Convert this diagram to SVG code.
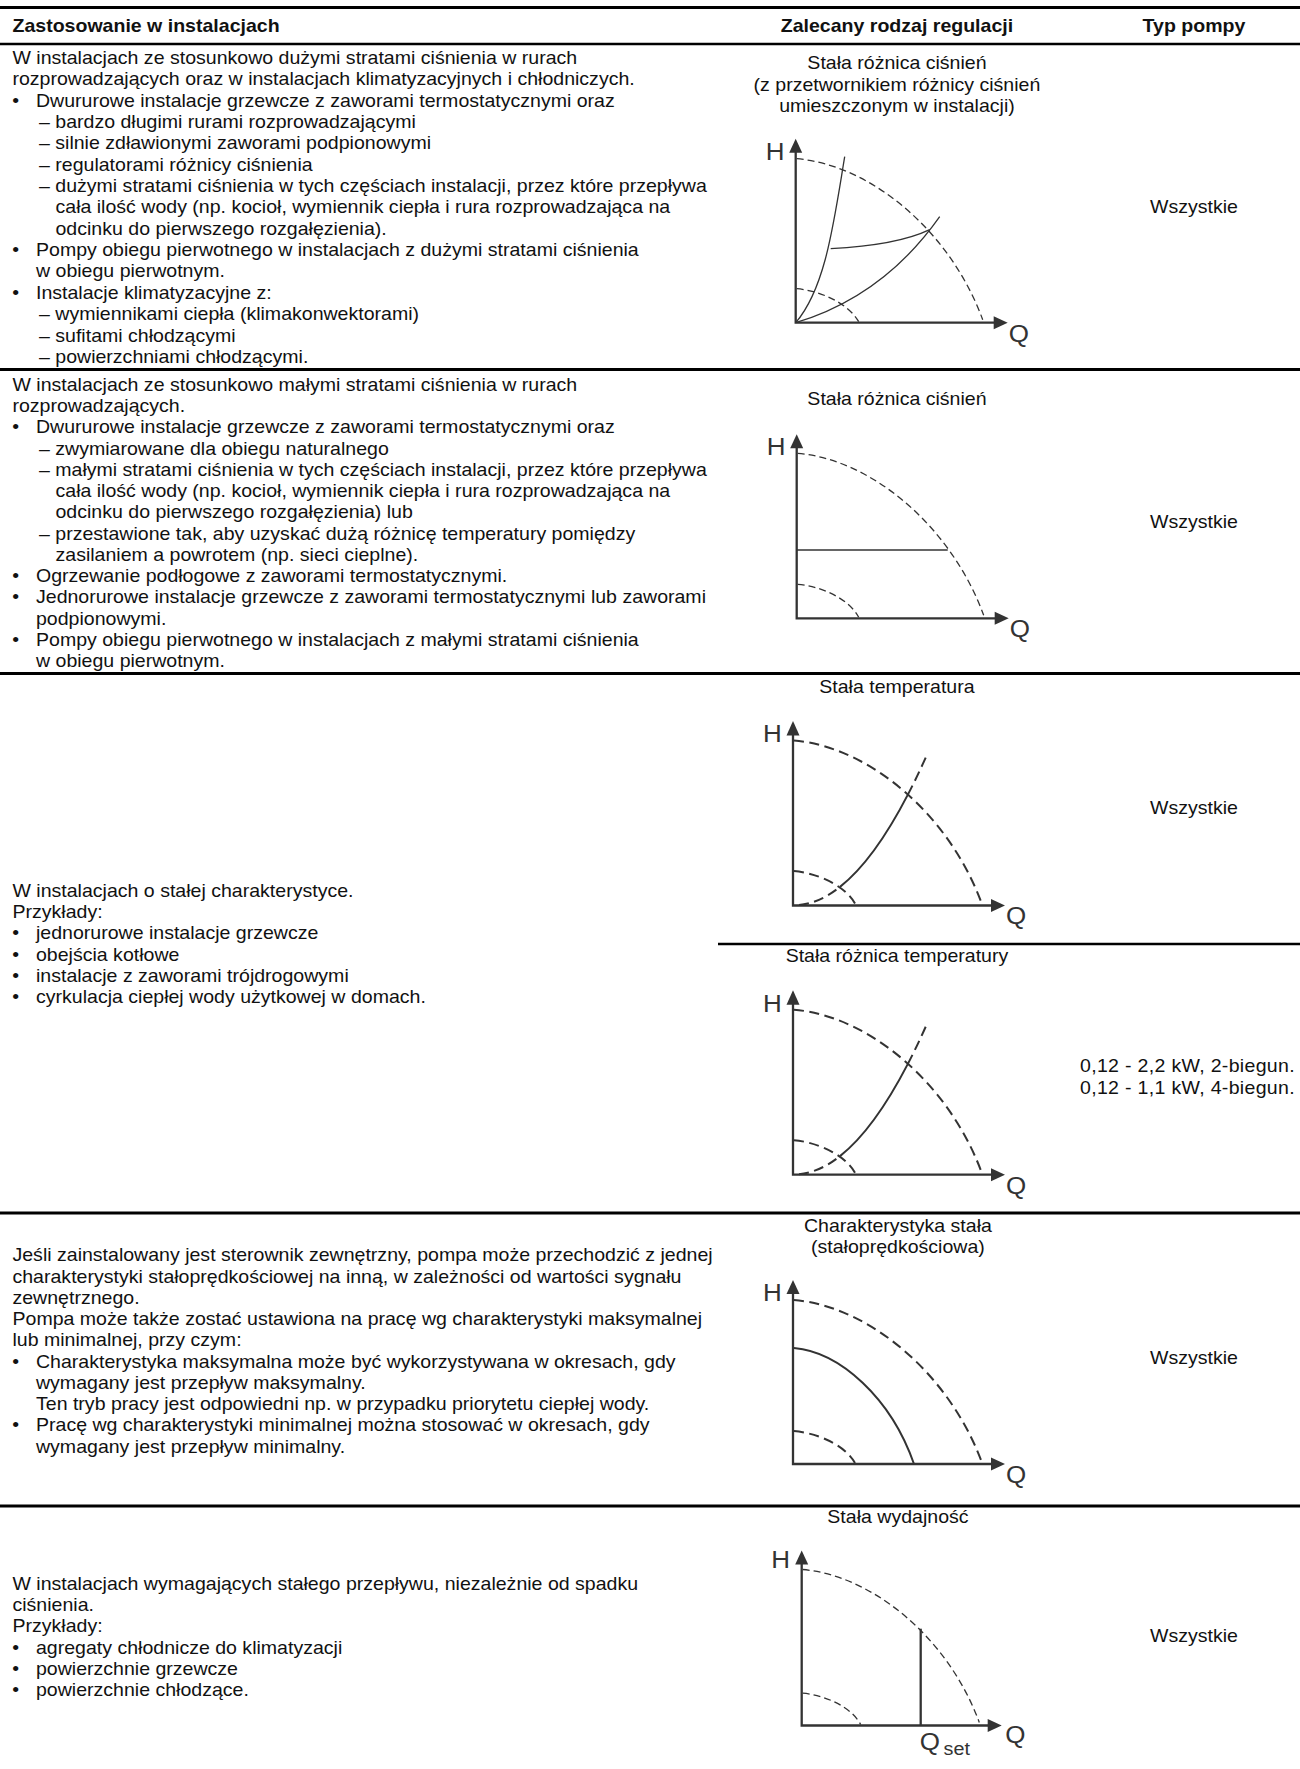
<svg xmlns="http://www.w3.org/2000/svg" width="1300" height="1769" viewBox="0 0 1300 1769">
<style>
.t{font-family:"Liberation Sans",Arial,Helvetica,sans-serif;font-size:17.8px;fill:#111}
.b{font-weight:bold}
.m{text-anchor:middle}
.ax{font-family:"Liberation Sans",Arial,Helvetica,sans-serif;font-size:23px;fill:#333}
.sub{font-family:"Liberation Sans",Arial,Helvetica,sans-serif;font-size:17.5px;fill:#333}
.rule{stroke:#000;stroke-width:3;fill:none}
.axis{stroke:#333;stroke-width:2.3;fill:none}
.head{fill:#333}
.thin{stroke:#333;stroke-width:1.3;fill:none}
.thinD{stroke:#333;stroke-width:1.3;fill:none;stroke-dasharray:7 4}
.thick{stroke:#333;stroke-width:2;fill:none}
.thickD{stroke:#333;stroke-width:2;fill:none;stroke-dasharray:10 5.5}
</style>
<rect width="1300" height="1769" fill="#fff"/>

<g id="rules">
<line class="rule" x1="0" y1="7.5" x2="1300" y2="7.5"/>
<line class="rule" x1="0" y1="44" x2="1300" y2="44" style="stroke-width:2.5"/>
<line class="rule" x1="0" y1="369.5" x2="1300" y2="369.5"/>
<line class="rule" x1="0" y1="673.5" x2="1300" y2="673.5"/>
<line class="rule" x1="718" y1="944" x2="1300" y2="944" style="stroke-width:2.5"/>
<line class="rule" x1="0" y1="1213" x2="1300" y2="1213"/>
<line class="rule" x1="0" y1="1506" x2="1300" y2="1506"/>
</g>

<g id="header" transform="matrix(1.098 0 0 1 0 0)">
<text class="t b" x="11.38" y="32">Zastosowanie w instalacjach</text>
<text class="t b m" x="816.9" y="32">Zalecany rodzaj regulacji</text>
<text class="t b m" x="1087.4" y="32">Typ pompy</text>
</g>

<g id="row1-text" transform="matrix(1.098 0 0 1 0 0)">
<text class="t" x="11.38" y="64">W instalacjach ze stosunkowo dużymi stratami ciśnienia w rurach</text>
<text class="t" x="11.38" y="85.35">rozprowadzających oraz w instalacjach klimatyzacyjnych i chłodniczych.</text>
<text class="t" x="11.2" y="106.7">•</text><text class="t" x="32.79" y="106.7">Dwururowe instalacje grzewcze z zaworami termostatycznymi oraz</text>
<text class="t" x="35.52" y="128.05">– bardzo długimi rurami rozprowadzającymi</text>
<text class="t" x="35.52" y="149.4">– silnie zdławionymi zaworami podpionowymi</text>
<text class="t" x="35.52" y="170.75">– regulatorami różnicy ciśnienia</text>
<text class="t" x="35.52" y="192.1">– dużymi stratami ciśnienia w tych częściach instalacji, przez które przepływa</text>
<text class="t" x="50.55" y="213.45">cała ilość wody (np. kocioł, wymiennik ciepła i rura rozprowadzająca na</text>
<text class="t" x="50.55" y="234.8">odcinku do pierwszego rozgałęzienia).</text>
<text class="t" x="11.2" y="256.15">•</text><text class="t" x="32.79" y="256.15">Pompy obiegu pierwotnego w instalacjach z dużymi stratami ciśnienia</text>
<text class="t" x="32.79" y="277.5">w obiegu pierwotnym.</text>
<text class="t" x="11.2" y="298.85">•</text><text class="t" x="32.79" y="298.85">Instalacje klimatyzacyjne z:</text>
<text class="t" x="35.52" y="320.2">– wymiennikami ciepła (klimakonwektorami)</text>
<text class="t" x="35.52" y="341.55">– sufitami chłodzącymi</text>
<text class="t" x="35.52" y="362.9">– powierzchniami chłodzącymi.</text>
<text class="t m" x="816.9" y="69">Stała różnica ciśnień</text>
<text class="t m" x="816.9" y="91">(z przetwornikiem różnicy ciśnień</text>
<text class="t m" x="816.9" y="112.5">umieszczonym w instalacji)</text>
<text class="t m" x="1087.4" y="213">Wszystkie</text>
</g>

<g id="chart1" transform="translate(795.7 322.7)">
<path class="axis" d="M0,-171 V0 H199"/>
<polygon class="head" points="0,-184 -6.5,-170 6.5,-170"/>
<polygon class="head" points="212,0 198,-6.5 198,6.5"/>
<path class="thinD" d="M1,-164 C74,-158 154,-93 187,-3"/>
<path class="thinD" d="M1,-34 C24,-32 52,-20 63,-1"/>
<path class="thin" d="M0,0 C30,-35 38,-100 49,-166"/>
<path class="thin" d="M0,0 C60,-18 108,-55 144,-106"/>
<path class="thin" d="M35,-74 C74,-76 109,-81 134,-93"/>
</g>
<g id="chart1-labels" transform="matrix(1.13 0 0 1 0 0)">
<text class="ax" x="677.6" y="159.7">H</text>
<text class="ax" x="892.7" y="341.7">Q</text>
</g>

<g id="row2-text" transform="matrix(1.098 0 0 1 0 0)">
<text class="t" x="11.38" y="391">W instalacjach ze stosunkowo małymi stratami ciśnienia w rurach</text>
<text class="t" x="11.38" y="412.25">rozprowadzających.</text>
<text class="t" x="11.2" y="433.5">•</text><text class="t" x="32.79" y="433.5">Dwururowe instalacje grzewcze z zaworami termostatycznymi oraz</text>
<text class="t" x="35.52" y="454.75">– zwymiarowane dla obiegu naturalnego</text>
<text class="t" x="35.52" y="476">– małymi stratami ciśnienia w tych częściach instalacji, przez które przepływa</text>
<text class="t" x="50.55" y="497.25">cała ilość wody (np. kocioł, wymiennik ciepła i rura rozprowadzająca na</text>
<text class="t" x="50.55" y="518.5">odcinku do pierwszego rozgałęzienia) lub</text>
<text class="t" x="35.52" y="539.75">– przestawione tak, aby uzyskać dużą różnicę temperatury pomiędzy</text>
<text class="t" x="50.55" y="561">zasilaniem a powrotem (np. sieci cieplne).</text>
<text class="t" x="11.2" y="582.25">•</text><text class="t" x="32.79" y="582.25">Ogrzewanie podłogowe z zaworami termostatycznymi.</text>
<text class="t" x="11.2" y="603.5">•</text><text class="t" x="32.79" y="603.5">Jednorurowe instalacje grzewcze z zaworami termostatycznymi lub zaworami</text>
<text class="t" x="32.79" y="624.75">podpionowymi.</text>
<text class="t" x="11.2" y="646">•</text><text class="t" x="32.79" y="646">Pompy obiegu pierwotnego w instalacjach z małymi stratami ciśnienia</text>
<text class="t" x="32.79" y="667.25">w obiegu pierwotnym.</text>
<text class="t m" x="816.9" y="405">Stała różnica ciśnień</text>
<text class="t m" x="1087.4" y="528">Wszystkie</text>
</g>

<g id="chart2" transform="translate(796.7 618.3)">
<path class="axis" d="M0,-171 V0 H199"/>
<polygon class="head" points="0,-184 -6.5,-170 6.5,-170"/>
<polygon class="head" points="212,0 198,-6.5 198,6.5"/>
<path class="thinD" d="M1,-165 C74,-159 154,-93 187,-3"/>
<path class="thinD" d="M1,-34 C24,-32 52,-20 62,-1"/>
<path class="thin" d="M0,-68.3 H151"/>
</g>
<g id="chart2-labels" transform="matrix(1.13 0 0 1 0 0)">
<text class="ax" x="678.5" y="455.3">H</text>
<text class="ax" x="893.5" y="637.3">Q</text>
</g>

<g id="row3-text" transform="matrix(1.098 0 0 1 0 0)">
<text class="t" x="11.38" y="897">W instalacjach o stałej charakterystyce.</text>
<text class="t" x="11.38" y="918.25">Przykłady:</text>
<text class="t" x="11.2" y="939.5">•</text><text class="t" x="32.79" y="939.5">jednorurowe instalacje grzewcze</text>
<text class="t" x="11.2" y="960.75">•</text><text class="t" x="32.79" y="960.75">obejścia kotłowe</text>
<text class="t" x="11.2" y="982">•</text><text class="t" x="32.79" y="982">instalacje z zaworami trójdrogowymi</text>
<text class="t" x="11.2" y="1003.25">•</text><text class="t" x="32.79" y="1003.25">cyrkulacja ciepłej wody użytkowej w domach.</text>
<text class="t m" x="816.9" y="693">Stała temperatura</text>
<text class="t m" x="1087.4" y="814.5">Wszystkie</text>
<text class="t m" x="816.9" y="962">Stała różnica temperatury</text>
<text class="t" x="983.6" y="1072.5" textLength="195.5" lengthAdjust="spacing">0,12 - 2,2 kW, 2-biegun.</text>
<text class="t" x="983.6" y="1094" textLength="195.5" lengthAdjust="spacing">0,12 - 1,1 kW, 4-biegun.</text>
</g>

<g id="chart3a" transform="translate(793 905.5)">
<path class="axis" d="M0,-171 V0 H199"/>
<polygon class="head" points="0,-184.5 -6.5,-170 6.5,-170"/>
<polygon class="head" points="212,0 198,-6.5 198,6.5"/>
<path class="thickD" d="M1,-165 C74,-159 154,-94 188,-4"/>
<path class="thickD" d="M1,-34.5 C24,-32.5 52,-20 62,-2"/>
<path class="thickD" d="M6,-0.5 Q26.5,-2.3 47,-18.6"/>
<path class="thick" d="M47,-18.6 Q81,-45.4 115,-111.1"/>
<path class="thickD" d="M115,-111.1 Q125,-130.4 135,-153.1"/>
</g>
<g id="chart3a-labels" transform="matrix(1.13 0 0 1 0 0)">
<text class="ax" x="675.2" y="742.5">H</text>
<text class="ax" x="890.3" y="924.5">Q</text>
</g>

<g id="chart3b" transform="translate(793 1174.7)">
<path class="axis" d="M0,-171 V0 H199"/>
<polygon class="head" points="0,-184.5 -6.5,-170 6.5,-170"/>
<polygon class="head" points="212,0 198,-6.5 198,6.5"/>
<path class="thickD" d="M1,-165 C74,-159 154,-94 188,-4"/>
<path class="thickD" d="M1,-34.5 C24,-32.5 52,-20 62,-2"/>
<path class="thickD" d="M6,-0.5 Q26.5,-2.3 47,-18.6"/>
<path class="thick" d="M47,-18.6 Q81,-45.4 115,-111.1"/>
<path class="thickD" d="M115,-111.1 Q125,-130.4 135,-153.1"/>
</g>
<g id="chart3b-labels" transform="matrix(1.13 0 0 1 0 0)">
<text class="ax" x="675.2" y="1011.7">H</text>
<text class="ax" x="890.3" y="1193.7">Q</text>
</g>

<g id="row4-text" transform="matrix(1.098 0 0 1 0 0)">
<text class="t" x="11.38" y="1261.5">Jeśli zainstalowany jest sterownik zewnętrzny, pompa może przechodzić z jednej</text>
<text class="t" x="11.38" y="1282.75">charakterystyki stałoprędkościowej na inną, w zależności od wartości sygnału</text>
<text class="t" x="11.38" y="1304">zewnętrznego.</text>
<text class="t" x="11.38" y="1325.25">Pompa może także zostać ustawiona na pracę wg charakterystyki maksymalnej</text>
<text class="t" x="11.38" y="1346.5">lub minimalnej, przy czym:</text>
<text class="t" x="11.2" y="1367.75">•</text><text class="t" x="32.79" y="1367.75">Charakterystyka maksymalna może być wykorzystywana w okresach, gdy</text>
<text class="t" x="32.79" y="1389">wymagany jest przepływ maksymalny.</text>
<text class="t" x="32.79" y="1410.25">Ten tryb pracy jest odpowiedni np. w przypadku priorytetu ciepłej wody.</text>
<text class="t" x="11.2" y="1431.5">•</text><text class="t" x="32.79" y="1431.5">Pracę wg charakterystyki minimalnej można stosować w okresach, gdy</text>
<text class="t" x="32.79" y="1452.75">wymagany jest przepływ minimalny.</text>
<text class="t m" x="817.8" y="1232">Charakterystyka stała</text>
<text class="t m" x="817.8" y="1253">(stałoprędkościowa)</text>
<text class="t m" x="1087.4" y="1364">Wszystkie</text>
</g>

<g id="chart4" transform="translate(793 1464)">
<path class="axis" d="M0,-171 V0 H199"/>
<polygon class="head" points="0,-184 -6.5,-170 6.5,-170"/>
<polygon class="head" points="212,0 198,-6.5 198,6.5"/>
<path class="thickD" d="M1,-164 C74,-158 154,-93 188,-4"/>
<path class="thickD" d="M1,-33 C24,-31 52,-19 62,-1"/>
<path class="thick" d="M1,-116 C47,-112 98,-66 121,0"/>
</g>
<g id="chart4-labels" transform="matrix(1.13 0 0 1 0 0)">
<text class="ax" x="675.2" y="1301">H</text>
<text class="ax" x="890.3" y="1483">Q</text>
</g>

<g id="row5-text" transform="matrix(1.098 0 0 1 0 0)">
<text class="t" x="11.38" y="1590">W instalacjach wymagających stałego przepływu, niezależnie od spadku</text>
<text class="t" x="11.38" y="1611.25">ciśnienia.</text>
<text class="t" x="11.38" y="1632.5">Przykłady:</text>
<text class="t" x="11.2" y="1653.75">•</text><text class="t" x="32.79" y="1653.75">agregaty chłodnicze do klimatyzacji</text>
<text class="t" x="11.2" y="1675">•</text><text class="t" x="32.79" y="1675">powierzchnie grzewcze</text>
<text class="t" x="11.2" y="1696.25">•</text><text class="t" x="32.79" y="1696.25">powierzchnie chłodzące.</text>
<text class="t m" x="817.8" y="1523">Stała wydajność</text>
<text class="t m" x="1087.4" y="1642.5">Wszystkie</text>
</g>

<g id="chart5" transform="translate(801.7 1725.5)">
<path class="axis" d="M0,-162 V0 H187"/>
<polygon class="head" points="0,-175 -6.5,-161 6.5,-161"/>
<polygon class="head" points="200,0 186,-6.5 186,6.5"/>
<path class="thinD" d="M1,-156 C70.3,-150 146.3,-88.4 177.6,-3"/>
<path class="thinD" d="M1,-32.3 C22.8,-30.4 49.4,-19 59,-1"/>
<path class="axis" d="M119,-96.8 V0"/>
</g>
<g id="chart5-labels" transform="matrix(1.13 0 0 1 0 0)">
<text class="ax" x="682.5" y="1568.5">H</text>
<text class="ax" x="889.5" y="1743">Q</text>
<text class="ax" x="814" y="1750">Q</text>
<text class="sub" x="835" y="1755">set</text>
</g>
</svg>
